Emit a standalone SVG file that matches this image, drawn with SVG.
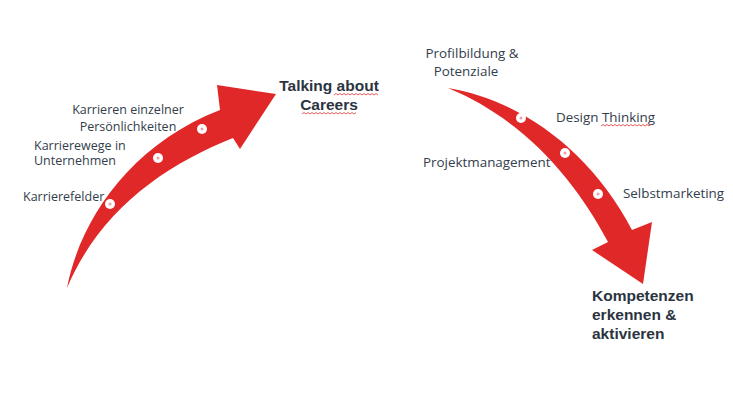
<svg xmlns="http://www.w3.org/2000/svg" width="733" height="414" viewBox="0 0 733 414">
<style>
.arrow{fill:#e12828;}
.dot{fill:#ffffff;}
.dotc{fill:#f0a0a0;}
.lbl{font-family:"Open Sans","Liberation Sans",Arial,sans-serif;font-size:12.5px;fill:#333d4b;}
.lblr{font-family:"Open Sans","Liberation Sans",Arial,sans-serif;font-size:13.4px;fill:#333d4b;}
.ttl{font-family:"Liberation Sans",Arial,sans-serif;font-size:15.5px;font-weight:bold;fill:#2b3440;}
.sq{fill:none;stroke:#e03030;stroke-width:0.8;}
</style>
<rect width="733" height="414" fill="#ffffff"/>
<g id="connectors">
<g id="arrow-left">
<path class="arrow" d="M67,288 C80,220 130,145 220,110 L217,85 L276,94 L240,149 L233,138 C165,165 100,210 67,288 Z"/>
<circle class="dot" cx="110" cy="204" r="5"/><circle class="dotc" cx="110" cy="204" r="1.5"/>
<circle class="dot" cx="158" cy="158" r="5"/><circle class="dotc" cx="158" cy="158" r="1.5"/>
<circle class="dot" cx="202" cy="129" r="5"/><circle class="dotc" cx="202" cy="129" r="1.5"/>
</g>
<g id="arrow-right">
<path class="arrow" d="M448,88 C520,100 590,150 632,230 L652,222 L643,284 L592,250 L608,242 C575,180 525,120 448,88 Z"/>
<circle class="dot" cx="521" cy="118" r="5"/><circle class="dotc" cx="521" cy="118" r="1.5"/>
<circle class="dot" cx="565" cy="153" r="5"/><circle class="dotc" cx="565" cy="153" r="1.5"/>
<circle class="dot" cx="598" cy="194" r="5"/><circle class="dotc" cx="598" cy="194" r="1.5"/>
</g>
</g>
<g id="node-karrieren">
<text class="lbl" x="128" y="114" text-anchor="middle">Karrieren einzelner</text>
<text class="lbl" x="128" y="131" text-anchor="middle">Persönlichkeiten</text>
</g>
<g id="node-karrierewege">
<text class="lbl" x="34" y="150">Karrierewege in</text>
<text class="lbl" x="34" y="165">Unternehmen</text>
</g>
<g id="node-karrierefelder">
<text class="lbl" x="23" y="201">Karrierefelder</text>
</g>
<g id="node-talking">
<text class="ttl" x="329" y="91" text-anchor="middle">Talking about</text>
<text class="ttl" x="329" y="110" text-anchor="middle">Careers</text>
<path class="sq" d="M334,95 l2,-1.5 l2,1.5 l2,-1.5 l2,1.5 l2,-1.5 l2,1.5 l2,-1.5 l2,1.5 l2,-1.5 l2,1.5 l2,-1.5 l2,1.5 l2,-1.5 l2,1.5 l2,-1.5 l2,1.5 l2,-1.5 l2,1.5 l2,-1.5 l2,1.5 l2,-1.5 l2,1.5"/>
<path class="sq" d="M302,114 l2,-1.5 l2,1.5 l2,-1.5 l2,1.5 l2,-1.5 l2,1.5 l2,-1.5 l2,1.5 l2,-1.5 l2,1.5 l2,-1.5 l2,1.5 l2,-1.5 l2,1.5 l2,-1.5 l2,1.5 l2,-1.5 l2,1.5 l2,-1.5 l2,1.5 l2,-1.5 l2,1.5 l2,-1.5 l2,1.5 l2,-1.5 l2,1.5 l2,-1.5"/>
</g>
<g id="node-profil">
<text class="lblr" x="472" y="58" text-anchor="middle">Profilbildung &amp;</text>
<text class="lblr" x="466" y="76" text-anchor="middle">Potenziale</text>
</g>
<g id="node-design">
<text class="lblr" x="556" y="122">Design Thinking</text>
<path class="sq" d="M601,126 l2,-1.5 l2,1.5 l2,-1.5 l2,1.5 l2,-1.5 l2,1.5 l2,-1.5 l2,1.5 l2,-1.5 l2,1.5 l2,-1.5 l2,1.5 l2,-1.5 l2,1.5 l2,-1.5 l2,1.5 l2,-1.5 l2,1.5 l2,-1.5 l2,1.5 l2,-1.5 l2,1.5 l2,-1.5 l2,1.5 l2,-1.5"/>
</g>
<g id="node-projekt">
<text class="lblr" x="423" y="167">Projektmanagement</text>
</g>
<g id="node-selbst">
<text class="lblr" x="623" y="198">Selbstmarketing</text>
</g>
<g id="node-kompetenzen">
<text class="ttl" x="592" y="301">Kompetenzen</text>
<text class="ttl" x="592" y="320">erkennen &amp;</text>
<text class="ttl" x="592" y="339">aktivieren</text>
</g>
</svg>
